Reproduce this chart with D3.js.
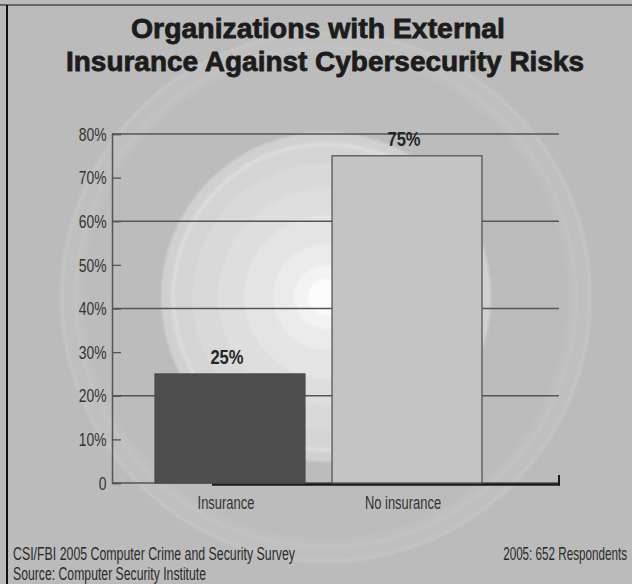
<!DOCTYPE html>
<html>
<head>
<meta charset="utf-8">
<script src="https://cdn.jsdelivr.net/npm/d3@7"></script>
<style>
  html, body { margin: 0; padding: 0; background: #bbbbbb; }
  svg { display: block; }
</style>
</head>
<body>
<script>
// Survey answers (percent of respondents)
const categories = ["Insurance", "No insurance"];
const values = [25, 75];
const barFills = ["#4d4d4d", "#c4c4c4"];
const tickValues = [0, 10, 20, 30, 40, 50, 60, 70, 80];
const tickLabels = ["0", "10%", "20%", "30%", "40%", "50%", "60%", "70%", "80%"];
const gridValues = [20, 40, 60, 80];
const titleLines = ["Organizations with External", "Insurance Against Cybersecurity Risks"];
const footLeft = ["CSI/FBI 2005 Computer Crime and Security Survey", "Source: Computer Security Institute"];
const footRight = "2005: 652 Respondents";

const W = 632, H = 584;
const sans = "'Liberation Sans', Arial, sans-serif";

const svg = d3.select("body").append("svg").attr("width", W).attr("height", H);

svg.append("rect").attr("width", W).attr("height", H).attr("fill", "#bbbbbb");

// Narrow text: regular sans squeezed horizontally
function narrowText(g, x, y, str, opts) {
  const t = g.append("text")
    .attr("transform", `translate(${x},${y}) scale(${opts.sx},1)`)
    .attr("text-anchor", opts.anchor || "start")
    .attr("font-family", sans)
    .attr("font-size", opts.size)
    .attr("font-weight", opts.weight || "normal")
    .attr("fill", opts.fill || "#333")
    .text(str);
  if (opts.dy) t.attr("dy", opts.dy);
  return t;
}

// Concentric halo behind the plot
const defs = svg.append("defs");
defs.append("filter").attr("id", "soft")
  .append("feGaussianBlur").attr("stdDeviation", 1.2);
const halo = svg.append("g").attr("transform", "translate(326,297)").attr("filter", "url(#soft)");
halo.append("circle").attr("r", 266).attr("fill", "#bfbfbf");
halo.append("circle").attr("r", 264).attr("fill", "none").attr("stroke", "#c4c4c4").attr("stroke-width", 3);
halo.append("circle").attr("r", 250).attr("fill", "none").attr("stroke", "#c3c3c3").attr("stroke-width", 3);
halo.append("circle").attr("r", 242).attr("fill", "#bcbcbc");
const rings = [
  [165, "#d0d0d0"], [155, "#dcdcdc"], [151, "#d4d4d4"], [134, "#d9d9d9"],
  [108, "#dedede"], [82, "#e4e4e4"], [53, "#ebebeb"], [32, "#f3f3f3"], [18, "#fbfbfb"]
];
rings.forEach(([r, c]) => halo.append("circle").attr("r", r).attr("fill", c));

// Frame edges
svg.append("line").attr("x1", 0).attr("x2", W).attr("y1", 5).attr("y2", 5)
  .attr("stroke", "#4a4a4a").attr("stroke-width", 1.5);
svg.append("line").attr("x1", 7).attr("x2", 7).attr("y1", 5).attr("y2", H)
  .attr("stroke", "#111").attr("stroke-width", 2);

// Title
const titleX = [131, 66], titleW = [374, 518], titleY = [38, 71];
titleLines.forEach((t, i) => {
  svg.append("text")
    .attr("x", titleX[i]).attr("y", titleY[i])
    .attr("textLength", titleW[i]).attr("lengthAdjust", "spacingAndGlyphs")
    .attr("font-family", sans).attr("font-weight", "bold").attr("font-size", 28)
    .attr("fill", "#1c1c1c").attr("stroke", "#1c1c1c").attr("stroke-width", 0.8)
    .text(t);
});

// Scales
const y = d3.scaleLinear().domain([0, 80]).range([483, 134]);
const x = d3.scaleBand().domain(categories).range([155, 482]).paddingInner(0.153);
const axisX0 = 112, axisX1 = 559;

// Gridlines
svg.append("g").selectAll("line").data(gridValues).join("line")
  .attr("x1", axisX0).attr("x2", axisX1)
  .attr("y1", d => y(d)).attr("y2", d => y(d))
  .attr("stroke", "#555").attr("stroke-width", 1.3);

// Y axis with short inner ticks
const yAxis = d3.axisRight(y).tickValues(tickValues).tickSize(9).tickFormat(() => "");
const gy = svg.append("g").attr("transform", `translate(${axisX0},0)`).call(yAxis);
gy.select(".domain").attr("stroke", "#555").attr("stroke-width", 1.5);
gy.selectAll(".tick line").attr("stroke", "#555").attr("stroke-width", 1.3);

const gTicks = svg.append("g");
tickValues.forEach((v, i) => {
  narrowText(gTicks, 106.5, y(v), tickLabels[i], { sx: 0.75, size: 18.5, anchor: "end", dy: "0.36em", fill: "#333" });
});

// Baseline
svg.append("line").attr("x1", axisX0).attr("x2", axisX1).attr("y1", y(0)).attr("y2", y(0))
  .attr("stroke", "#555").attr("stroke-width", 1.3);
svg.append("line").attr("x1", 212).attr("x2", axisX1 + 1).attr("y1", y(0) + 1.5).attr("y2", y(0) + 1.5)
  .attr("stroke", "#1a1a1a").attr("stroke-width", 2.5);
svg.append("line").attr("x1", axisX1).attr("x2", axisX1).attr("y1", y(0) - 8).attr("y2", y(0) + 2.5)
  .attr("stroke", "#1a1a1a").attr("stroke-width", 2);

// Bars
svg.append("g").selectAll("rect").data(values).join("rect")
  .attr("x", (d, i) => x(categories[i]))
  .attr("y", d => y(d))
  .attr("width", x.bandwidth())
  .attr("height", d => y(0) - y(d))
  .attr("fill", (d, i) => barFills[i])
  .attr("stroke", (d, i) => i === 0 ? "#4d4d4d" : "#555")
  .attr("stroke-width", 1.3);

// Value labels
const gVals = svg.append("g");
values.forEach((v, i) => {
  narrowText(gVals, x(categories[i]) + x.bandwidth() / 2 - 3, y(v) - 9.5, v + "%",
    { sx: 0.85, size: 19.5, weight: "bold", anchor: "middle", fill: "#262626" });
});

// Category labels
const gCats = svg.append("g");
categories.forEach(c => {
  narrowText(gCats, x(c) + x.bandwidth() / 2 - 4, 509, c, { sx: 0.7, size: 18.5, anchor: "middle", fill: "#333" });
});

// Footer
const gFoot = svg.append("g");
const footW = [282, 193];
footLeft.forEach((t, i) => {
  gFoot.append("text").attr("x", 13).attr("y", 560 + i * 20)
    .attr("textLength", footW[i]).attr("lengthAdjust", "spacingAndGlyphs")
    .attr("font-family", sans).attr("font-size", 17.5).attr("fill", "#2a2a2a").text(t);
});
narrowText(gFoot, 627, 560, footRight, { sx: 0.667, size: 17.5, anchor: "end", fill: "#2a2a2a" });
</script>
</body>
</html>
